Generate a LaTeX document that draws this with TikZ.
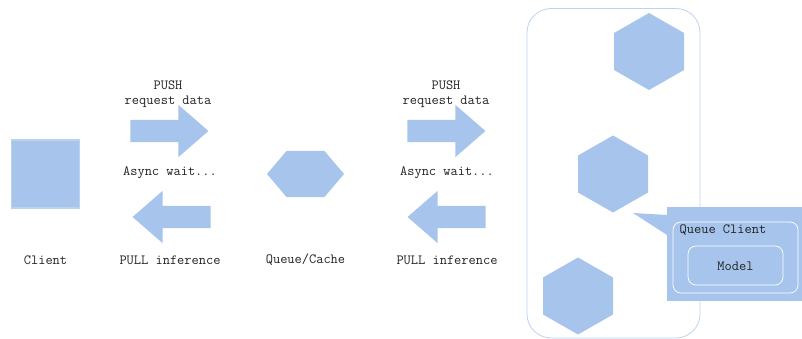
\documentclass[tikz,border=0pt]{standalone}
\usepackage{tikz}
\usetikzlibrary{shapes.arrows,positioning}
\definecolor{boxblue}{RGB}{167,197,236}
\definecolor{edgeblue}{RGB}{190,210,240}
\definecolor{textgray}{RGB}{34,34,34}

\begin{document}
\begin{tikzpicture}[x=1pt, y=-1pt,
  lbl/.style={font=\ttfamily\fontsize{14}{15}\selectfont, text=textgray, inner sep=0pt},
  flow/.style={single arrow, fill=boxblue, draw=none, inner sep=0pt, outer sep=0pt,
    text height=11pt, text depth=11pt, minimum height=78pt, minimum width=52pt,
    single arrow head extend=15pt, single arrow tip angle=82},
  pullflow/.style={flow, shape border rotate=180},
  hexfill/.style={fill=boxblue},
  inbox/.style={draw=white, line width=0.7pt, rounded corners=8pt}
]
\useasboundingbox (0,0) rectangle (802,339);

% client side
\node[draw=edgeblue, line width=1.2pt, fill=boxblue, minimum size=68pt, inner sep=0pt] (client) at (45.5,174) {};
\node[lbl] (clientlbl) at (45.5,260) {Client};

% first hop
\node[flow] (push1) at (163,131) {};
\node[pullflow] (pull1) at (178,217) {};
\node[lbl, align=center] (push1lbl) at (168,94.5) {PUSH\\[0pt]request data};
\node[lbl] (wait1) at (170,173) {Async wait...};
\node[lbl] (pull1lbl) at (170,260) {PULL inference};

% queue
\coordinate (queue) at (305.5,174);
\fill[hexfill, shift={(queue)}] (-38.5,0) -- (-19,-23) -- (19,-23) -- (38.5,0) -- (19,23) -- (-19,23) -- cycle;
\node[lbl] (queuelbl) at (305.5,260) {Queue/Cache};

% second hop
\node[flow] (push2) at (440,131) {};
\node[pullflow] (pull2) at (453,217) {};
\node[lbl, align=center] (push2lbl) at (446,94.5) {PUSH\\[0pt]request data};
\node[lbl] (wait2) at (447,173) {Async wait...};
\node[lbl] (pull2lbl) at (447,260) {PULL inference};

% workers
\draw[edgeblue, line width=0.8pt, rounded corners=24pt] (527,8.5) rectangle (700,338);
\foreach \cx/\cy in {649/51.5, 613/174, 578/296}
  \fill[hexfill, shift={(\cx,\cy)}] (0,-38.5) -- (35,-18.5) -- (35,18.5) -- (0,38.5) -- (-35,18.5) -- (-35,-18.5) -- cycle;

% callout
\fill[boxblue] (633,213) -- (667,215) -- (667,235) -- cycle;
\fill[boxblue] (667,207) rectangle (802,301);
\draw[inbox] (673,222) rectangle (798,293);
\node[lbl, anchor=west] (qclient) at (679.5,230) {Queue Client};
\draw[inbox] (688,246) rectangle (783,285);
\node[lbl] (model) at (735.5,266) {Model};
\end{tikzpicture}
\end{document}
